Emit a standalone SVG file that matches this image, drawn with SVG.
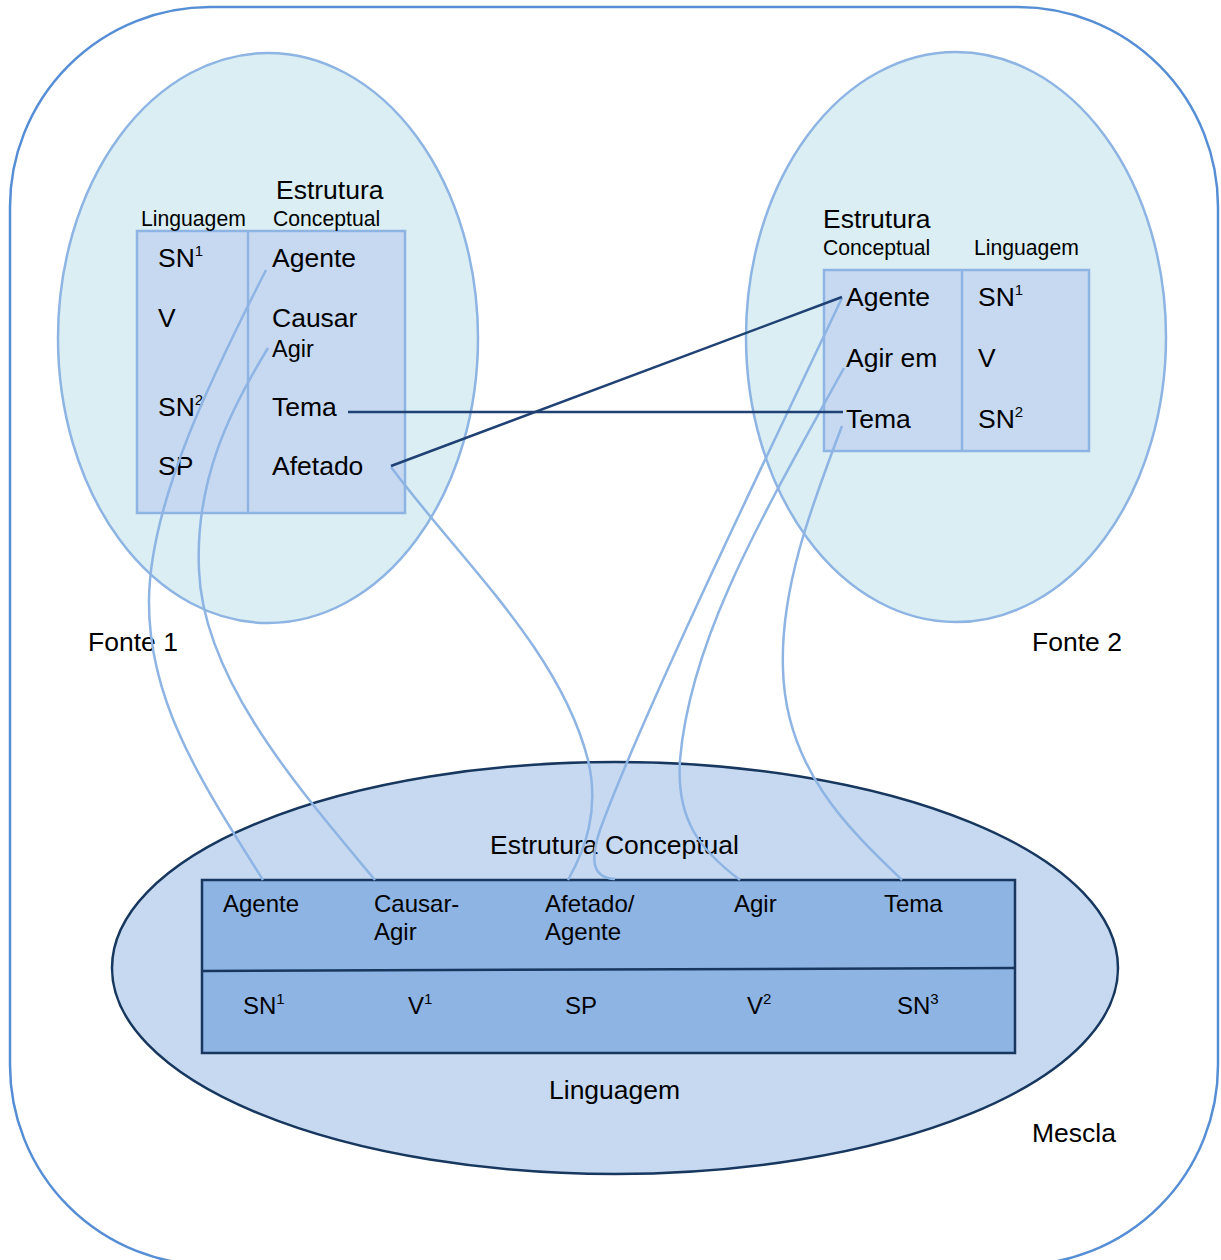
<svg xmlns="http://www.w3.org/2000/svg" width="1221" height="1260" viewBox="0 0 1221 1260">
<style>
text{font-family:"Liberation Sans",Arial,sans-serif;fill:#000}
.t24{font-size:26.5px}
.t19{font-size:21.2px}
.t21{font-size:23.5px}
.t22{font-size:24px}
.sup{font-size:15px}
.src{fill:#DAEEF3;stroke:#8EB4E3;stroke-width:2.5}
.box{fill:#C6D9F1;stroke:#8EB4E3;stroke-width:2.5}
.lt{fill:none;stroke:#8EB4E3;stroke-width:2.5}
.dk{fill:none;stroke:#1F4173;stroke-width:2.5}
</style>
<rect id="frame" x="10" y="7" width="1208" height="1258" rx="200" ry="200" fill="#fff" stroke="#558ED5" stroke-width="2.5"/>

<g id="fonte1">
<ellipse class="src" cx="268" cy="338" rx="210" ry="285"/>
<rect class="box" x="137" y="231" width="268" height="282"/>
<line class="lt" x1="248" y1="231" x2="248" y2="513"/>
<text class="t24" x="276" y="199">Estrutura</text>
<text class="t19" x="273" y="226">Conceptual</text>
<text class="t19" x="141" y="226">Linguagem</text>
<text class="t24" x="158" y="267">SN<tspan class="sup" dy="-11">1</tspan></text>
<text class="t24" x="158" y="327">V</text>
<text class="t24" x="158" y="416">SN<tspan class="sup" dy="-11">2</tspan></text>
<text class="t24" x="158" y="475">SP</text>
<text class="t24" x="272" y="267">Agente</text>
<text class="t24" x="272" y="327">Causar</text>
<text class="t21" x="272" y="357">Agir</text>
<text class="t24" x="272" y="416">Tema</text>
<text class="t24" x="272" y="475">Afetado</text>
<text class="t24" x="88" y="651">Fonte 1</text>
</g>

<g id="fonte2">
<ellipse class="src" cx="956" cy="337" rx="210" ry="285"/>
<rect class="box" x="824" y="270" width="265" height="181"/>
<line class="lt" x1="962" y1="270" x2="962" y2="451"/>
<text class="t24" x="823" y="228">Estrutura</text>
<text class="t19" x="823" y="255">Conceptual</text>
<text class="t19" x="974" y="255">Linguagem</text>
<text class="t24" x="846" y="306">Agente</text>
<text class="t24" x="846" y="367">Agir em</text>
<text class="t24" x="846" y="428">Tema</text>
<text class="t24" x="978" y="306">SN<tspan class="sup" dy="-11">1</tspan></text>
<text class="t24" x="978" y="367">V</text>
<text class="t24" x="978" y="428">SN<tspan class="sup" dy="-11">2</tspan></text>
<text class="t24" x="1032" y="651">Fonte 2</text>
</g>

<g id="mescla">
<ellipse cx="615" cy="968" rx="503" ry="206" fill="#C6D9F1" stroke="#17375E" stroke-width="2.5"/>
<rect x="202" y="880" width="813" height="173" fill="#8EB4E3" stroke="#17375E" stroke-width="2.5"/>
<line x1="202" y1="971" x2="1015" y2="968" stroke="#17375E" stroke-width="2.5"/>
<text class="t24" x="490" y="854">Estrutura Conceptual</text>
<text class="t22" x="223" y="912">Agente</text>
<text class="t22" x="374" y="912">Causar-</text>
<text class="t22" x="374" y="940">Agir</text>
<text class="t22" x="545" y="912">Afetado/</text>
<text class="t22" x="545" y="940">Agente</text>
<text class="t22" x="734" y="912">Agir</text>
<text class="t22" x="884" y="912">Tema</text>
<text class="t22" x="243" y="1014">SN<tspan class="sup" dy="-10">1</tspan></text>
<text class="t22" x="408" y="1014">V<tspan class="sup" dy="-10">1</tspan></text>
<text class="t22" x="565" y="1014">SP</text>
<text class="t22" x="747" y="1014">V<tspan class="sup" dy="-10">2</tspan></text>
<text class="t22" x="897" y="1014">SN<tspan class="sup" dy="-10">3</tspan></text>
<text class="t24" x="549" y="1099">Linguagem</text>
<text class="t24" x="1032" y="1142">Mescla</text>
</g>

<g id="connectors">
<path class="lt" d="M266,270 C215,370 150,500 149,600 C148,700 200,780 263,880"/>
<path class="lt" d="M268,348 C230,410 195,480 199,570 C203,680 300,790 375,880"/>
<path class="lt" d="M391,467 C460,560 560,650 588,760 C600,810 585,850 568,880"/>
<path class="lt" d="M842,298 C760,470 640,720 600,830 C590,860 592,878 615,879"/>
<path class="lt" d="M844,368 C760,520 690,640 680,760 C676,820 700,850 740,880"/>
<path class="lt" d="M842,426 C810,510 780,590 783,670 C786,770 850,830 902,880"/>
<line class="dk" x1="348" y1="412" x2="843" y2="412"/>
<line class="dk" x1="391" y1="466" x2="842" y2="297"/>
</g>
</svg>
